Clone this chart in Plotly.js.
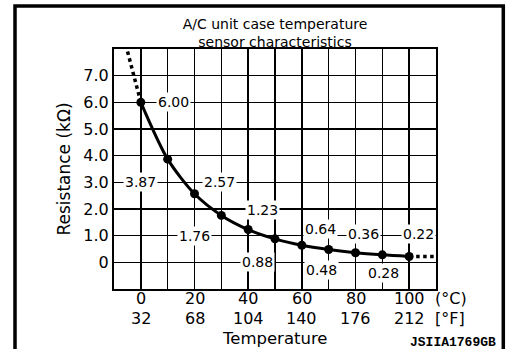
<!DOCTYPE html>
<html><head><meta charset="utf-8">
<script src="https://cdn.plot.ly/plotly-3.0.1.min.js"></script>
<style>html,body{margin:0;padding:0;background:#fff}#chart{width:506px;height:349px}</style>
</head><body><div id="chart"></div>
<script>
// ---- data ----
const tempC = [0, 10, 20, 30, 40, 50, 60, 70, 80, 90, 100];
const resistance = [6.00, 3.87, 2.57, 1.76, 1.23, 0.88, 0.64, 0.48, 0.36, 0.28, 0.22];
const extLeftC = [0, -5.2];
const extLeftR = [6.00, 8.0];
const extRightC = [100, 110];
const extRightR = [0.22, 0.22];
const tickC = [0, 20, 40, 60, 80, 100];
const tickF = [32, 68, 104, 140, 176, 212];
const yTickVals = [0, 1, 2, 3, 4, 5, 6, 7];
const yTickText = ['0', '1.0', '2.0', '3.0', '4.0', '5.0', '6.0', '7.0'];

// ---- label placement (layout only) ----
const labelPlace = [[12, 6.0], [0, 3.0], [29.5, 3.0], [20, 1.0], [45.5, 1.95], [43.3, 0],
                    [66.8, 1.25], [67.4, -0.3], [82.8, 1.05], [90.6, -0.4], [103.3, 1.05]];

const FONT = 'DejaVu Sans, Arial, sans-serif';
const M = {l: 114, r: 70, t: 49, b: 60};
const W = 506, H = 349;
const pw = W - M.l - M.r, ph = H - M.t - M.b;
const px = v => (v - M.l) / pw;
const py = v => 1 - (v - M.t) / ph;

const traces = [
  {x: extLeftC, y: extLeftR, mode: 'lines', line: {color: 'black', width: 3.5, dash: 'dot'}, hoverinfo: 'skip'},
  {x: extRightC, y: extRightR, mode: 'lines', line: {color: 'black', width: 3.5, dash: 'dot'}, hoverinfo: 'skip'},
  {x: tempC, y: resistance, mode: 'lines+markers', line: {color: 'black', width: 3, shape: 'spline', smoothing: 0.8},
   marker: {color: 'black', size: 9}}
];

const tickFont = {family: FONT, size: 16, color: 'black'};
const annotations = resistance.map((r, i) => ({
  x: labelPlace[i][0], y: labelPlace[i][1], xref: 'x', yref: 'y',
  text: r.toFixed(2), showarrow: false, bgcolor: 'white', borderpad: 1,
  font: {family: FONT, size: 14, color: 'black'}
}));
// x tick labels: °C row and °F row, placed through the x axis scale
tickC.forEach((c, i) => {
  annotations.push({x: c, xref: 'x', yref: 'paper', y: py(298.5), yanchor: 'middle', xanchor: 'center',
                    text: String(c), showarrow: false, font: tickFont, borderpad: 0});
  annotations.push({x: c, xref: 'x', yref: 'paper', y: py(318.5), yanchor: 'middle', xanchor: 'center',
                    text: String(tickF[i]), showarrow: false, font: tickFont, borderpad: 0});
});
annotations.push({
  xref: 'paper', yref: 'paper', x: px(434), y: py(298.5), xanchor: 'left', yanchor: 'middle',
  text: '(°C)', showarrow: false, font: tickFont, borderpad: 0
});
annotations.push({
  xref: 'paper', yref: 'paper', x: px(434), y: py(318.5), xanchor: 'left', yanchor: 'middle',
  text: '[°F]', showarrow: false, font: tickFont, borderpad: 0
});
annotations.push({
  xref: 'paper', yref: 'paper', x: px(275), y: py(338), xanchor: 'center', yanchor: 'middle',
  text: 'Temperature', showarrow: false, font: {family: FONT, size: 16.5, color: 'black'}, borderpad: 0
});
annotations.push({
  xref: 'paper', yref: 'paper', x: px(498), y: py(342), xanchor: 'right', yanchor: 'middle',
  text: '<b>JSIIA1769GB</b>', showarrow: false, font: {family: 'Liberation Mono, Courier New, monospace', size: 13, color: 'black'}
});

const layout = {
  width: W, height: H, margin: M, showlegend: false,
  paper_bgcolor: 'white', plot_bgcolor: 'white',
  title: {text: 'A/C unit case temperature<br>sensor characteristics', font: {family: FONT, size: 14, color: 'black'},
          xref: 'paper', x: px(275), xanchor: 'center', yref: 'container', y: 1 - 29 / H, yanchor: 'middle'},
  xaxis: {range: [-10, 110], tickvals: tickC, showticklabels: false,
          showgrid: true, gridcolor: 'black', gridwidth: 1.5, zeroline: false,
          minor: {dtick: 10, tick0: 0, showgrid: true, gridcolor: 'black', gridwidth: 1.5},
          showline: true, mirror: true, linecolor: 'black', linewidth: 2, ticks: ''},
  yaxis: {range: [-1, 8], tickvals: yTickVals, ticktext: yTickText,
          showgrid: true, gridcolor: 'black', gridwidth: 1.5, zeroline: false,
          showline: true, mirror: true, linecolor: 'black', linewidth: 2, ticks: '',
          tickfont: tickFont,
          title: {text: 'Resistance (kΩ)', font: {family: FONT, size: 17, color: 'black'}, standoff: 8}},
  annotations: annotations,
  shapes: [{type: 'path', xref: 'paper', yref: 'paper',
            path: `M ${px(15)} ${py(355)} L ${px(15)} ${py(6)} L ${px(503.3)} ${py(6)} L ${px(503.3)} ${py(355)}`,
            line: {color: 'black', width: 3.5}}]
};

Plotly.newPlot('chart', traces, layout, {staticPlot: true, displayModeBar: false});
</script></body></html>
